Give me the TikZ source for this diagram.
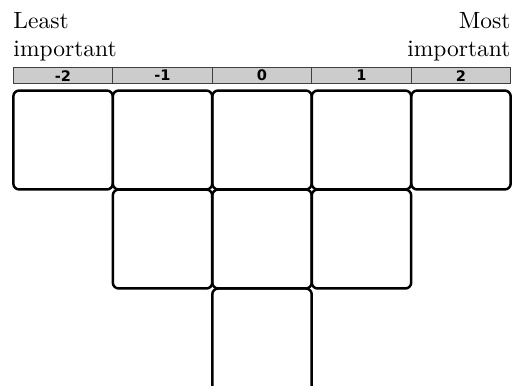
\documentclass[tikz,border=0pt]{standalone}
\usepackage{fontspec}
\newfontfamily\hdrfont{DejaVu Sans}
\usetikzlibrary{positioning}
\begin{document}
\begin{tikzpicture}[x=0.4255pt, y=-0.4255pt,
  cell/.style={draw, rounded corners=2.5pt, line width=1.05pt,
               minimum width=42.3pt, minimum height=42.1pt, inner sep=0pt, outer sep=0pt},
  hdr/.style={draw=black!75, fill=black!20, line width=0.45pt,
              minimum width=42.3pt, minimum height=7pt, inner sep=0pt,
              font=\hdrfont\bfseries\fontsize{6.2}{7}\selectfont},
  lbl/.style={font=\fontsize{10}{12}\selectfont, inner sep=0pt}
]
\clip (0,0) rectangle (514,385);
\node[lbl, align=left, anchor=north west] (least) at (13,11.5) {Least\\important};
\node[lbl, align=right, anchor=north east] (most) at (511,11.5) {Most\\important};
% header scale
\foreach \v [count=\i] in {-2,-1,0,1,2}
  \node[hdr] (hdr\i) at ({13.3+(\i-0.5)*99.48}, 75.6) {\v};
% cells: 5 + 3 + 1
\foreach \i in {1,...,5}
  \node[cell] (top\i) at ({13.3+(\i-0.5)*99.48}, 140) {};
\foreach \i in {2,3,4}
  \node[cell] (mid\i) at ({13.3+(\i-0.5)*99.48}, 239) {};
\node[cell, anchor=north, minimum height=46pt] (low3) at ({13.3+2.5*99.48}, 288.5) {};
\end{tikzpicture}
\end{document}
